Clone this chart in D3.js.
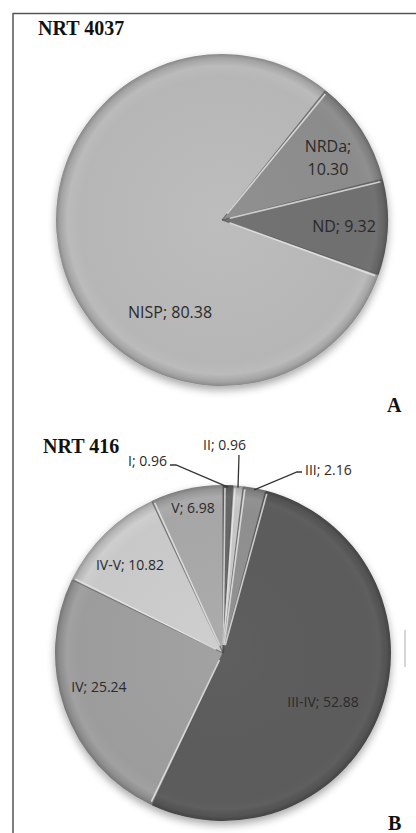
<!DOCTYPE html>
<html>
<head>
<meta charset="utf-8">
<script src="https://cdn.jsdelivr.net/npm/d3@7/dist/d3.min.js"></script>
<style>
  html, body { margin: 0; padding: 0; background: #fff; }
  svg { display: block; }
</style>
</head>
<body>
<svg id="chart" width="416" height="833"></svg>
<script>
// ---- data ----
const titleA = "NRT 4037";
const categoriesA = ["NISP", "NRDa", "ND"];
const valuesA = [80.38, 10.30, 9.32];
const colorsA = ["#b6b6b6", "#8b8b8b", "#6f6f6f"];

const titleB = "NRT 416";
const categoriesB = ["I", "II", "III", "III-IV", "IV", "IV-V", "V"];
const valuesB = [0.96, 0.96, 2.16, 52.88, 25.24, 10.82, 6.98];
const colorsB = ["#666666", "#c4c4c4", "#8e8e8e", "#5b5b5b", "#9c9c9c", "#c8c8c8", "#a6a6a6"];

const panelLetters = ["A", "B"];

// ---- drawing ----
const svg = d3.select("#chart");
const defs = svg.append("defs");
const labelColor = "#2a2a2a";

// frame (left and top rule)
svg.append("line").attr("x1", 13).attr("y1", 13.5).attr("x2", 416).attr("y2", 13.5)
  .attr("stroke", "#555").attr("stroke-width", 1.5);
svg.append("line").attr("x1", 13).attr("y1", 13).attr("x2", 13).attr("y2", 833)
  .attr("stroke", "#555").attr("stroke-width", 1.5);

// shadow filter
const f = defs.append("filter").attr("id", "shadow").attr("x", "-20%").attr("y", "-20%").attr("width", "140%").attr("height", "140%");
f.append("feGaussianBlur").attr("in", "SourceAlpha").attr("stdDeviation", 4).attr("result", "b");
f.append("feOffset").attr("in", "b").attr("dx", 0).attr("dy", 4).attr("result", "o");
f.append("feComponentTransfer").attr("in", "o").attr("result", "o2")
  .append("feFuncA").attr("type", "linear").attr("slope", 0.35);
const fm = f.append("feMerge");
fm.append("feMergeNode").attr("in", "o2");
fm.append("feMergeNode").attr("in", "SourceGraphic");

function drawPie(opts) {
  const { cx, cy, r, cats, vals, cols, start, key } = opts;
  const pie = d3.pie().sort(null).value(d => d.v)
    .startAngle(start).endAngle(start + 2 * Math.PI);
  const data = cats.map((c, i) => ({ c, v: vals[i], col: cols[i] }));
  const arcs = pie(data);
  const arc = d3.arc().innerRadius(0).outerRadius(r);
  const g = svg.append("g").attr("transform", `translate(${cx},${cy})`);
  const gp = g.append("g").attr("filter", "url(#shadow)");

  arcs.forEach((a, i) => {
    const id = `${key}g${i}`;
    const c = d3.color(a.data.col);
    const grad = defs.append("radialGradient").attr("id", id)
      .attr("gradientUnits", "userSpaceOnUse")
      .attr("cx", 0).attr("cy", 0).attr("r", r).attr("fx", 0).attr("fy", 0);
    grad.append("stop").attr("offset", "0%").attr("stop-color", c.brighter(0.1));
    grad.append("stop").attr("offset", "86%").attr("stop-color", c);
    grad.append("stop").attr("offset", "93%").attr("stop-color", c.brighter(0.08));
    grad.append("stop").attr("offset", "97.5%").attr("stop-color", c.darker(0.3));
    grad.append("stop").attr("offset", "100%").attr("stop-color", c.darker(0.8));
    gp.append("path")
      .attr("d", arc(a))
      .attr("fill", `url(#${id})`);
  });

  // slice separators (bevel highlight)
  arcs.forEach(a => {
    const ang = a.startAngle;
    g.append("line")
      .attr("x1", 0).attr("y1", 0)
      .attr("x2", Math.sin(ang) * (r - 1)).attr("y2", -Math.cos(ang) * (r - 1))
      .attr("stroke", "#4a4a4a").attr("stroke-width", 1.2).attr("stroke-opacity", 0.6);
    g.append("line")
      .attr("x1", Math.sin(ang + 0.02) * 8).attr("y1", -Math.cos(ang + 0.02) * 8)
      .attr("x2", Math.sin(ang + 0.012) * (r - 3)).attr("y2", -Math.cos(ang + 0.012) * (r - 3))
      .attr("stroke", "#e8e8e8").attr("stroke-width", 1.6).attr("stroke-opacity", 0.8);
  });
  return { g, arcs, arc };
}

// ---------- Pie A ----------
svg.append("text").attr("x", 38).attr("y", 35)
  .attr("font-family", "Liberation Serif, serif").attr("font-weight", "bold")
  .attr("font-size", 20).attr("fill", "#111").text(titleA);

const degA = Math.PI / 180;
const pA = drawPie({ cx: 222, cy: 220, r: 166, cats: categoriesA, vals: valuesA, cols: colorsA,
  start: 109.3 * degA, key: "A" });

// label placement for pie A (layout only)
const labA = {
  "NISP": { x: -52, y: 98, lines: 1 },
  "NRDa": { x: 106, y: -68, lines: 2 },
  "ND": { x: 122, y: 12, lines: 1 }
};
pA.arcs.forEach(a => {
  const p = labA[a.data.c];
  const t = pA.g.append("text").attr("text-anchor", "middle")
    .attr("font-family", "Open Sans, sans-serif").attr("font-size", 16).attr("fill", labelColor);
  const txt = `${a.data.c}; ${a.data.v.toFixed(2)}`;
  if (p.lines === 2) {
    t.append("tspan").attr("x", p.x).attr("y", p.y).text(`${a.data.c};`);
    t.append("tspan").attr("x", p.x).attr("y", p.y + 23).text(a.data.v.toFixed(2));
  } else {
    t.attr("x", p.x).attr("y", p.y).text(txt);
  }
});

svg.append("text").attr("x", 387).attr("y", 412)
  .attr("font-family", "Liberation Serif, serif").attr("font-weight", "bold")
  .attr("font-size", 20).attr("fill", "#111").text(panelLetters[0]);

// ---------- Pie B ----------
svg.append("text").attr("x", 43).attr("y", 453)
  .attr("font-family", "Liberation Serif, serif").attr("font-weight", "bold")
  .attr("font-size", 20).attr("fill", "#111").text(titleB);

const cxB = 223, cyB = 653, rB = 168;
const pB = drawPie({ cx: cxB, cy: cyB, r: rB, cats: categoriesB, vals: valuesB, cols: colorsB,
  start: 0, key: "B" });

// inside labels (layout offsets relative to centre)
const labB = {
  "III-IV": { x: 100, y: 54 },
  "IV": { x: -124, y: 39 },
  "IV-V": { x: -93, y: -83 },
  "V": { x: -30, y: -140 }
};
// outside labels with leader lines
const outB = {
  "I": { tx: -56, ty: -187, anchor: "end", elbow: [-53, -188], elbowEnd: [-47, -188] },
  "II": { tx: 1.5, ty: -203, anchor: "middle", elbow: [16, -198], elbowEnd: [16, -198] },
  "III": { tx: 82, ty: -178, anchor: "start", elbow: [79, -181], elbowEnd: [74, -181] }
};
pB.arcs.forEach(a => {
  const txt = `${a.data.c}; ${a.data.v.toFixed(2)}`;
  const mid = (a.startAngle + a.endAngle) / 2;
  if (labB[a.data.c]) {
    const p = labB[a.data.c];
    pB.g.append("text").attr("x", p.x).attr("y", p.y).attr("text-anchor", "middle")
      .attr("font-family", "Open Sans, sans-serif").attr("font-size", 14).attr("fill", labelColor)
      .text(txt);
  } else {
    const p = outB[a.data.c];
    const ex = Math.sin(mid) * (rB - 2), ey = -Math.cos(mid) * (rB - 2);
    pB.g.append("path")
      .attr("d", `M${p.elbow[0]},${p.elbow[1]}L${p.elbowEnd[0]},${p.elbowEnd[1]}L${ex},${ey}`)
      .attr("fill", "none").attr("stroke", "#333").attr("stroke-width", 1.3);
    pB.g.append("text").attr("x", p.tx).attr("y", p.ty).attr("text-anchor", p.anchor)
      .attr("font-family", "Open Sans, sans-serif").attr("font-size", 14).attr("fill", labelColor)
      .text(txt);
  }
});

// small stray rule right of pie B (as in source)
svg.append("line").attr("x1", 405).attr("y1", 630).attr("x2", 405).attr("y2", 667)
  .attr("stroke", "#bbb").attr("stroke-width", 1.2);

svg.append("text").attr("x", 388).attr("y", 830)
  .attr("font-family", "Liberation Serif, serif").attr("font-weight", "bold")
  .attr("font-size", 20).attr("fill", "#111").text(panelLetters[1]);
</script>
</body>
</html>
